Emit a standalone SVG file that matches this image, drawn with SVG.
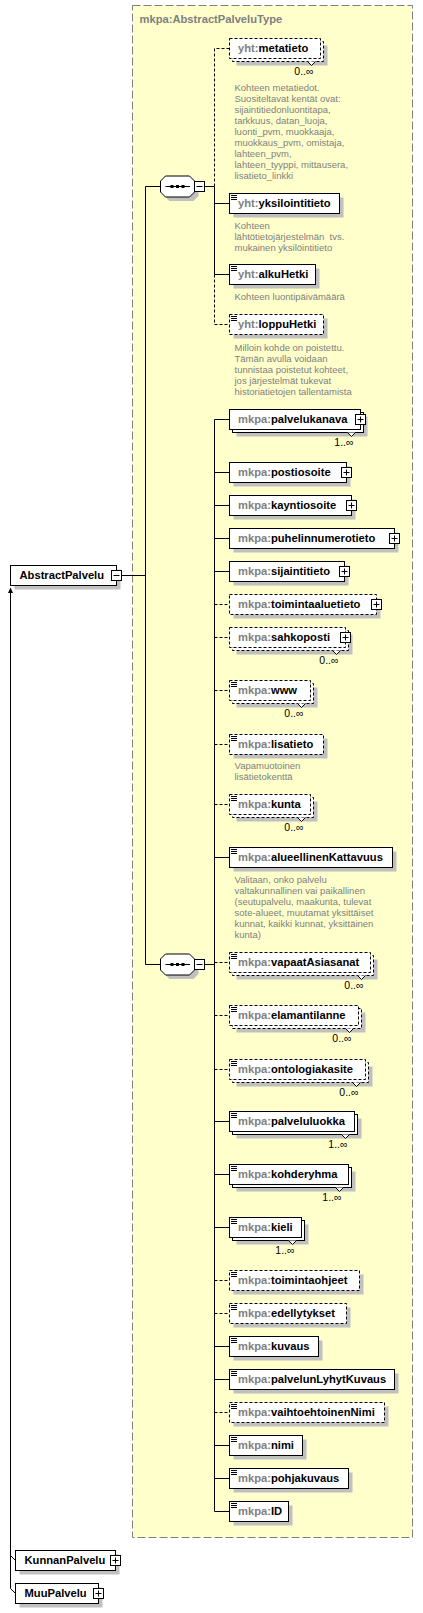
<svg xmlns="http://www.w3.org/2000/svg" width="423" height="1613" viewBox="0 0 423 1613">
<style>
.sh{fill:#c0c0c0}
.b{fill:#fff;stroke:#000;stroke-width:1}
.o{stroke-dasharray:3,2}
.n{font-family:"Liberation Sans",Arial,sans-serif;font-weight:bold;font-size:11.2px;fill:#000}
.p{fill:#808080}
.d{font-family:"Liberation Sans",Arial,sans-serif;font-size:9.5px;fill:#808080}
.m{font-family:"Liberation Sans",Arial,sans-serif;font-size:10.5px;fill:#000;text-anchor:end}
.l{fill:none;stroke:#000;stroke-width:1}
.dl{stroke-dasharray:3,2}
.ic{fill:none;stroke:#000;stroke-width:1}
</style>
<rect id="type-box" x="132.5" y="5.5" width="280" height="1532" fill="#ffffcc" stroke="#808080" stroke-dasharray="8,3"/>
<text class="n p" x="139.5" y="23">mkpa:AbstractPalveluType</text>

<g id="connectors">
<path class="l" d="M121.5,575.5H145.5"/>
<path class="l" d="M160.5,186.5H145.5V964.5H160.5"/>
<path class="l" d="M204.5,186.5H214.5"/>
<path class="l dl" d="M229.5,48.5H214.5V186.5"/>
<path class="l" d="M214.5,186.5V274.5"/>
<path class="l" d="M214.5,203.5H229.5M214.5,274.5H229.5"/>
<path class="l dl" d="M214.5,274.5V324.5H229.5"/>
<path class="l" d="M204.5,964.5H214.5"/>
<path class="l" d="M229.5,419.5H214.5V1511.5H229.5"/>
<path class="l" d="M214.5,472.5H229.5M214.5,505.5H229.5M214.5,538.5H229.5M214.5,571.5H229.5M214.5,857.5H229.5M214.5,1121.5H229.5M214.5,1174.5H229.5M214.5,1227.5H229.5M214.5,1346.5H229.5M214.5,1379.5H229.5M214.5,1445.5H229.5M214.5,1478.5H229.5"/>
<path class="l dl" d="M214.5,604.5H229.5M214.5,637.5H229.5M214.5,690.5H229.5M214.5,744.5H229.5M214.5,804.5H229.5M214.5,962.5H229.5M214.5,1015.5H229.5M214.5,1069.5H229.5M214.5,1280.5H229.5M214.5,1313.5H229.5M214.5,1412.5H229.5"/>
<path class="l" d="M10.5,592V1588.5L15.5,1593.5M10.5,1555.5L15.5,1560.5"/>
<polygon points="10.5,587.5 8,593 13,593" fill="#000"/>
</g>

<g id="AbstractPalvelu">
<rect class="sh" x="14.5" y="569.5" width="106" height="20"/>
<rect class="b" x="10.5" y="565.5" width="106" height="20"/>
<rect class="b" x="111.5" y="570.5" width="10" height="10"/>
<path class="ic" d="M113.5,575.5h6"/>
<text class="n" x="19.5" y="579.3">AbstractPalvelu</text>
</g>

<g id="KunnanPalvelu">
<rect class="sh" x="19.5" y="1554.5" width="100" height="20"/>
<rect class="b" x="15.5" y="1550.5" width="100" height="20"/>
<rect class="b" x="110.5" y="1555.5" width="10" height="10"/>
<path class="ic" d="M112.5,1560.5h6M115.5,1557.5v6"/>
<text class="n" x="24.5" y="1564.3">KunnanPalvelu</text>
</g>

<g id="MuuPalvelu">
<rect class="sh" x="19.5" y="1587.5" width="83" height="20"/>
<rect class="b" x="15.5" y="1583.5" width="83" height="20"/>
<rect class="b" x="93.5" y="1588.5" width="10" height="10"/>
<path class="ic" d="M95.5,1593.5h6M98.5,1590.5v6"/>
<text class="n" x="24.5" y="1597.3">MuuPalvelu</text>
</g>

<g id="sequence1">
<path class="sh" d="M169.5,180H193.5L198.5,185V196L193.5,201H169.5L164.5,196V185Z"/>
<path class="b" d="M165.5,176H189.5L194.5,181V192L189.5,197H165.5L160.5,192V181Z"/>
<path class="ic" d="M165.5,186.5H190"/>
<rect x="170.5" y="185" width="3" height="3" fill="#000"/>
<rect x="176" y="185" width="3" height="3" fill="#000"/>
<rect x="181.5" y="185" width="3" height="3" fill="#000"/>
<rect class="b" x="194.5" y="181.5" width="10" height="10"/>
<path class="ic" d="M196.5,186.5h6"/>
</g>

<g id="sequence2">
<path class="sh" d="M169.5,958H193.5L198.5,963V974L193.5,979H169.5L164.5,974V963Z"/>
<path class="b" d="M165.5,954H189.5L194.5,959V970L189.5,975H165.5L160.5,970V959Z"/>
<path class="ic" d="M165.5,964.5H190"/>
<rect x="170.5" y="963" width="3" height="3" fill="#000"/>
<rect x="176" y="963" width="3" height="3" fill="#000"/>
<rect x="181.5" y="963" width="3" height="3" fill="#000"/>
<rect class="b" x="194.5" y="959.5" width="10" height="10"/>
<path class="ic" d="M196.5,964.5h6"/>
</g>

<g id="metatieto">
<rect class="sh" x="236.5" y="45.5" width="91" height="20"/>
<rect class="b o" x="232.5" y="41.5" width="91" height="20"/>
<rect class="b o" x="229.5" y="38.5" width="91" height="20"/>
<path class="b" d="M307.5,61.5L311.5,65.5L315.5,61.5"/>
<text class="n" x="238" y="52.3"><tspan class="p">yht:</tspan>metatieto</text>
<text class="m" x="313.5" y="75">0..∞</text>
<text class="d" x="234.5" y="91.3">Kohteen metatiedot.</text>
<text class="d" x="234.5" y="102.2">Suositeltavat kentät ovat:</text>
<text class="d" x="234.5" y="113.1">sijaintitiedonluontitapa,</text>
<text class="d" x="234.5" y="124">tarkkuus, datan_luoja,</text>
<text class="d" x="234.5" y="134.9">luonti_pvm, muokkaaja,</text>
<text class="d" x="234.5" y="145.8">muokkaus_pvm, omistaja,</text>
<text class="d" x="234.5" y="156.7">lahteen_pvm,</text>
<text class="d" x="234.5" y="167.6">lahteen_tyyppi, mittausera,</text>
<text class="d" x="234.5" y="178.5">lisatieto_linkki</text>
</g>

<g id="yksilointitieto">
<rect class="sh" x="233.5" y="197.5" width="110" height="20"/>
<rect class="b" x="229.5" y="193.5" width="110" height="20"/>
<path class="ic" d="M231,195.5h6M231,197.5h6M231,199.5h6"/>
<text class="n" x="238" y="207.3"><tspan class="p">yht:</tspan>yksilointitieto</text>
<text class="d" x="234.5" y="228.7">Kohteen</text>
<text class="d" x="234.5" y="239.6" xml:space="preserve">lähtötietojärjestelmän  tvs.</text>
<text class="d" x="234.5" y="250.5">mukainen yksilöintitieto</text>
</g>

<g id="alkuHetki">
<rect class="sh" x="233.5" y="268.5" width="86" height="20"/>
<rect class="b" x="229.5" y="264.5" width="86" height="20"/>
<path class="ic" d="M231,266.5h6M231,268.5h6M231,270.5h6"/>
<text class="n" x="238" y="278.3"><tspan class="p">yht:</tspan>alkuHetki</text>
<text class="d" x="234.5" y="300">Kohteen luontipäivämäärä</text>
</g>

<g id="loppuHetki">
<rect class="sh" x="233.5" y="318.5" width="94" height="20"/>
<rect class="b o" x="229.5" y="314.5" width="94" height="20"/>
<path class="ic" d="M231,316.5h6M231,318.5h6M231,320.5h6"/>
<text class="n" x="238" y="328.3"><tspan class="p">yht:</tspan>loppuHetki</text>
<text class="d" x="234.5" y="351.3">Milloin kohde on poistettu.</text>
<text class="d" x="234.5" y="362.2">Tämän avulla voidaan</text>
<text class="d" x="234.5" y="373.1">tunnistaa poistetut kohteet,</text>
<text class="d" x="234.5" y="384">jos järjestelmät tukevat</text>
<text class="d" x="234.5" y="394.9">historiatietojen tallentamista</text>
</g>

<g id="palvelukanava">
<rect class="sh" x="236.5" y="416.5" width="131" height="20"/>
<rect class="b" x="232.5" y="412.5" width="131" height="20"/>
<rect class="b" x="229.5" y="409.5" width="131" height="20"/>
<path class="b" d="M347.5,432.5L351.5,436.5L355.5,432.5"/>
<rect class="b" x="355.5" y="414.5" width="10" height="10"/>
<path class="ic" d="M357.5,419.5h6M360.5,416.5v6"/>
<text class="n" x="238" y="423.3"><tspan class="p">mkpa:</tspan>palvelukanava</text>
<text class="m" x="353.5" y="446">1..∞</text>
</g>

<g id="postiosoite">
<rect class="sh" x="233.5" y="466.5" width="117" height="20"/>
<rect class="b" x="229.5" y="462.5" width="117" height="20"/>
<rect class="b" x="341.5" y="467.5" width="10" height="10"/>
<path class="ic" d="M343.5,472.5h6M346.5,469.5v6"/>
<text class="n" x="238" y="476.3"><tspan class="p">mkpa:</tspan>postiosoite</text>
</g>

<g id="kayntiosoite">
<rect class="sh" x="233.5" y="499.5" width="122" height="20"/>
<rect class="b" x="229.5" y="495.5" width="122" height="20"/>
<rect class="b" x="346.5" y="500.5" width="10" height="10"/>
<path class="ic" d="M348.5,505.5h6M351.5,502.5v6"/>
<text class="n" x="238" y="509.3"><tspan class="p">mkpa:</tspan>kayntiosoite</text>
</g>

<g id="puhelinnumerotieto">
<rect class="sh" x="233.5" y="532.5" width="165" height="20"/>
<rect class="b" x="229.5" y="528.5" width="165" height="20"/>
<rect class="b" x="389.5" y="533.5" width="10" height="10"/>
<path class="ic" d="M391.5,538.5h6M394.5,535.5v6"/>
<text class="n" x="238" y="542.3"><tspan class="p">mkpa:</tspan>puhelinnumerotieto</text>
</g>

<g id="sijaintitieto">
<rect class="sh" x="233.5" y="565.5" width="115" height="20"/>
<rect class="b" x="229.5" y="561.5" width="115" height="20"/>
<rect class="b" x="339.5" y="566.5" width="10" height="10"/>
<path class="ic" d="M341.5,571.5h6M344.5,568.5v6"/>
<text class="n" x="238" y="575.3"><tspan class="p">mkpa:</tspan>sijaintitieto</text>
</g>

<g id="toimintaaluetieto">
<rect class="sh" x="233.5" y="598.5" width="147" height="20"/>
<rect class="b o" x="229.5" y="594.5" width="147" height="20"/>
<rect class="b" x="371.5" y="599.5" width="10" height="10"/>
<path class="ic" d="M373.5,604.5h6M376.5,601.5v6"/>
<text class="n" x="238" y="608.3"><tspan class="p">mkpa:</tspan>toimintaaluetieto</text>
</g>

<g id="sahkoposti">
<rect class="sh" x="236.5" y="634.5" width="116" height="20"/>
<rect class="b o" x="232.5" y="630.5" width="116" height="20"/>
<rect class="b o" x="229.5" y="627.5" width="116" height="20"/>
<path class="b" d="M332.5,650.5L336.5,654.5L340.5,650.5"/>
<rect class="b" x="340.5" y="632.5" width="10" height="10"/>
<path class="ic" d="M342.5,637.5h6M345.5,634.5v6"/>
<text class="n" x="238" y="641.3"><tspan class="p">mkpa:</tspan>sahkoposti</text>
<text class="m" x="338.5" y="664">0..∞</text>
</g>

<g id="www">
<rect class="sh" x="236.5" y="687.5" width="81" height="20"/>
<rect class="b o" x="232.5" y="683.5" width="81" height="20"/>
<rect class="b o" x="229.5" y="680.5" width="81" height="20"/>
<path class="ic" d="M231,682.5h6M231,684.5h6M231,686.5h6"/>
<path class="b" d="M297.5,703.5L301.5,707.5L305.5,703.5"/>
<text class="n" x="238" y="694.3"><tspan class="p">mkpa:</tspan>www</text>
<text class="m" x="303.5" y="717">0..∞</text>
</g>

<g id="lisatieto">
<rect class="sh" x="233.5" y="738.5" width="94" height="20"/>
<rect class="b o" x="229.5" y="734.5" width="94" height="20"/>
<path class="ic" d="M231,736.5h6M231,738.5h6M231,740.5h6"/>
<text class="n" x="238" y="748.3"><tspan class="p">mkpa:</tspan>lisatieto</text>
<text class="d" x="234.5" y="768.7">Vapamuotoinen</text>
<text class="d" x="234.5" y="779.6">lisätietokenttä</text>
</g>

<g id="kunta">
<rect class="sh" x="236.5" y="801.5" width="81" height="20"/>
<rect class="b o" x="232.5" y="797.5" width="81" height="20"/>
<rect class="b o" x="229.5" y="794.5" width="81" height="20"/>
<path class="ic" d="M231,796.5h6M231,798.5h6M231,800.5h6"/>
<path class="b" d="M297.5,817.5L301.5,821.5L305.5,817.5"/>
<text class="n" x="238" y="808.3"><tspan class="p">mkpa:</tspan>kunta</text>
<text class="m" x="303.5" y="831">0..∞</text>
</g>

<g id="alueellinenKattavuus">
<rect class="sh" x="233.5" y="851.5" width="163" height="20"/>
<rect class="b" x="229.5" y="847.5" width="163" height="20"/>
<path class="ic" d="M231,849.5h6M231,851.5h6M231,853.5h6"/>
<text class="n" x="238" y="861.3"><tspan class="p">mkpa:</tspan>alueellinenKattavuus</text>
<text class="d" x="234.5" y="883">Valitaan, onko palvelu</text>
<text class="d" x="234.5" y="893.9">valtakunnallinen vai paikallinen</text>
<text class="d" x="234.5" y="904.8">(seutupalvelu, maakunta, tulevat</text>
<text class="d" x="234.5" y="915.7">sote-alueet, muutamat yksittäiset</text>
<text class="d" x="234.5" y="926.6">kunnat, kaikki kunnat, yksittäinen</text>
<text class="d" x="234.5" y="937.5">kunta)</text>
</g>

<g id="vapaatAsiasanat">
<rect class="sh" x="236.5" y="959.5" width="141" height="20"/>
<rect class="b o" x="232.5" y="955.5" width="141" height="20"/>
<rect class="b o" x="229.5" y="952.5" width="141" height="20"/>
<path class="ic" d="M231,954.5h6M231,956.5h6M231,958.5h6"/>
<path class="b" d="M357.5,975.5L361.5,979.5L365.5,975.5"/>
<text class="n" x="238" y="966.3"><tspan class="p">mkpa:</tspan>vapaatAsiasanat</text>
<text class="m" x="363.5" y="989">0..∞</text>
</g>

<g id="elamantilanne">
<rect class="sh" x="236.5" y="1012.5" width="129" height="20"/>
<rect class="b o" x="232.5" y="1008.5" width="129" height="20"/>
<rect class="b o" x="229.5" y="1005.5" width="129" height="20"/>
<path class="ic" d="M231,1007.5h6M231,1009.5h6M231,1011.5h6"/>
<path class="b" d="M345.5,1028.5L349.5,1032.5L353.5,1028.5"/>
<text class="n" x="238" y="1019.3"><tspan class="p">mkpa:</tspan>elamantilanne</text>
<text class="m" x="351.5" y="1042">0..∞</text>
</g>

<g id="ontologiakasite">
<rect class="sh" x="236.5" y="1066.5" width="136" height="20"/>
<rect class="b o" x="232.5" y="1062.5" width="136" height="20"/>
<rect class="b o" x="229.5" y="1059.5" width="136" height="20"/>
<path class="ic" d="M231,1061.5h6M231,1063.5h6M231,1065.5h6"/>
<path class="b" d="M352.5,1082.5L356.5,1086.5L360.5,1082.5"/>
<text class="n" x="238" y="1073.3"><tspan class="p">mkpa:</tspan>ontologiakasite</text>
<text class="m" x="358.5" y="1096">0..∞</text>
</g>

<g id="palveluluokka">
<rect class="sh" x="236.5" y="1118.5" width="125" height="20"/>
<rect class="b" x="232.5" y="1114.5" width="125" height="20"/>
<rect class="b" x="229.5" y="1111.5" width="125" height="20"/>
<path class="ic" d="M231,1113.5h6M231,1115.5h6M231,1117.5h6"/>
<path class="b" d="M341.5,1134.5L345.5,1138.5L349.5,1134.5"/>
<text class="n" x="238" y="1125.3"><tspan class="p">mkpa:</tspan>palveluluokka</text>
<text class="m" x="347.5" y="1148">1..∞</text>
</g>

<g id="kohderyhma">
<rect class="sh" x="236.5" y="1171.5" width="119" height="20"/>
<rect class="b" x="232.5" y="1167.5" width="119" height="20"/>
<rect class="b" x="229.5" y="1164.5" width="119" height="20"/>
<path class="ic" d="M231,1166.5h6M231,1168.5h6M231,1170.5h6"/>
<path class="b" d="M335.5,1187.5L339.5,1191.5L343.5,1187.5"/>
<text class="n" x="238" y="1178.3"><tspan class="p">mkpa:</tspan>kohderyhma</text>
<text class="m" x="341.5" y="1201">1..∞</text>
</g>

<g id="kieli">
<rect class="sh" x="236.5" y="1224.5" width="72" height="20"/>
<rect class="b" x="232.5" y="1220.5" width="72" height="20"/>
<rect class="b" x="229.5" y="1217.5" width="72" height="20"/>
<path class="ic" d="M231,1219.5h6M231,1221.5h6M231,1223.5h6"/>
<path class="b" d="M288.5,1240.5L292.5,1244.5L296.5,1240.5"/>
<text class="n" x="238" y="1231.3"><tspan class="p">mkpa:</tspan>kieli</text>
<text class="m" x="294.5" y="1254">1..∞</text>
</g>

<g id="toimintaohjeet">
<rect class="sh" x="233.5" y="1274.5" width="130" height="20"/>
<rect class="b o" x="229.5" y="1270.5" width="130" height="20"/>
<path class="ic" d="M231,1272.5h6M231,1274.5h6M231,1276.5h6"/>
<text class="n" x="238" y="1284.3"><tspan class="p">mkpa:</tspan>toimintaohjeet</text>
</g>

<g id="edellytykset">
<rect class="sh" x="233.5" y="1307.5" width="117" height="20"/>
<rect class="b o" x="229.5" y="1303.5" width="117" height="20"/>
<path class="ic" d="M231,1305.5h6M231,1307.5h6M231,1309.5h6"/>
<text class="n" x="238" y="1317.3"><tspan class="p">mkpa:</tspan>edellytykset</text>
</g>

<g id="kuvaus">
<rect class="sh" x="233.5" y="1340.5" width="89" height="20"/>
<rect class="b" x="229.5" y="1336.5" width="89" height="20"/>
<path class="ic" d="M231,1338.5h6M231,1340.5h6M231,1342.5h6"/>
<text class="n" x="238" y="1350.3"><tspan class="p">mkpa:</tspan>kuvaus</text>
</g>

<g id="palvelunLyhytKuvaus">
<rect class="sh" x="233.5" y="1373.5" width="165" height="20"/>
<rect class="b" x="229.5" y="1369.5" width="165" height="20"/>
<path class="ic" d="M231,1371.5h6M231,1373.5h6M231,1375.5h6"/>
<text class="n" x="238" y="1383.3"><tspan class="p">mkpa:</tspan>palvelunLyhytKuvaus</text>
</g>

<g id="vaihtoehtoinenNimi">
<rect class="sh" x="233.5" y="1406.5" width="155" height="20"/>
<rect class="b o" x="229.5" y="1402.5" width="155" height="20"/>
<path class="ic" d="M231,1404.5h6M231,1406.5h6M231,1408.5h6"/>
<text class="n" x="238" y="1416.3"><tspan class="p">mkpa:</tspan>vaihtoehtoinenNimi</text>
</g>

<g id="nimi">
<rect class="sh" x="233.5" y="1439.5" width="73" height="20"/>
<rect class="b" x="229.5" y="1435.5" width="73" height="20"/>
<path class="ic" d="M231,1437.5h6M231,1439.5h6M231,1441.5h6"/>
<text class="n" x="238" y="1449.3"><tspan class="p">mkpa:</tspan>nimi</text>
</g>

<g id="pohjakuvaus">
<rect class="sh" x="233.5" y="1472.5" width="119" height="20"/>
<rect class="b" x="229.5" y="1468.5" width="119" height="20"/>
<path class="ic" d="M231,1470.5h6M231,1472.5h6M231,1474.5h6"/>
<text class="n" x="238" y="1482.3"><tspan class="p">mkpa:</tspan>pohjakuvaus</text>
</g>

<g id="ID">
<rect class="sh" x="233.5" y="1505.5" width="59" height="20"/>
<rect class="b" x="229.5" y="1501.5" width="59" height="20"/>
<path class="ic" d="M231,1503.5h6M231,1505.5h6M231,1507.5h6"/>
<text class="n" x="238" y="1515.3"><tspan class="p">mkpa:</tspan>ID</text>
</g>
</svg>
